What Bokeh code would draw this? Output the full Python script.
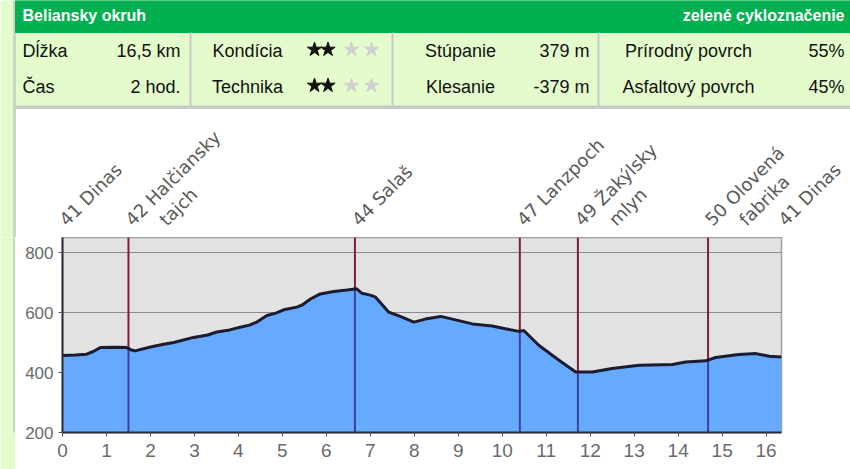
import math
import numpy as np
from bokeh.plotting import figure
from bokeh.layouts import column, row
from bokeh.models import Range1d, FixedTicker, ColumnDataSource
from bokeh.core.properties import value
from bokeh.embed import file_html
from bokeh.resources import INLINE

# ---------------- data ----------------
route_name = "Beliansky okruh"
route_mark = "zelené cykloznačenie"
info_names = ["Dĺžka", "Čas"]
info_values = ["16,5 km", "2 hod."]
rating_names = ["Kondícia", "Technika"]
rating_values = [2, 2]
rating_max = 4
climb_names = ["Stúpanie", "Klesanie"]
climb_values = ["379 m", "-379 m"]
surface_names = ["Prírodný povrch", "Asfaltový povrch"]
surface_values = ["55%", "45%"]

km = [0.0, 0.3, 0.55, 0.7, 0.86, 1.2, 1.46, 1.55, 1.65, 2.0, 2.3, 2.53, 2.98, 3.3,
      3.51, 3.8, 4.04, 4.25, 4.42, 4.65, 4.85, 5.03, 5.33, 5.45, 5.64, 5.86, 6.17,
      6.47, 6.69, 6.81, 7.0, 7.12, 7.42, 7.68, 7.99, 8.25, 8.6, 9.01, 9.32, 9.77,
      10.07, 10.38, 10.49, 10.83, 11.29, 11.67, 12.05, 12.5, 13.11, 13.87, 14.17,
      14.63, 14.85, 15.38, 15.77, 16.07, 16.35]
elev = [457, 458, 461, 470, 483, 484, 483, 476, 472, 485, 494, 500, 517, 525,
        535, 542, 551, 558, 568, 590, 598, 609, 618, 625, 645, 662, 670,
        675, 679, 664, 658, 651, 601, 587, 568, 578, 587, 573, 562, 555,
        546, 537, 540, 491, 441, 402, 402, 413, 424, 427, 435,
        439, 450, 460, 463, 454, 452]

cp_km = [0.0, 1.5, 6.65, 10.4, 11.72, 14.68, 16.35]
cp_names = ["41 Dinas", "42 Halčiansky\ntajch", "44 Salaš", "47 Lanzpoch",
            "49 Žakýlsky\nmlyn", "50 Olovená\nfabrika", "41 Dinas"]

x_ticks = list(range(0, 17))
y_ticks = [200, 400, 600, 800]
y_min, y_max = 200, 850
x_max = 16.35

# ---------------- layout constants (pixels) ----------------
LIGHT_GREEN = "#e4fccc"
GREEN = "#00b050"
GRAY_LINE = "#c8c8c8"
STRIP_COLOR = "#ccd6c2"
W = 850
STRIP_W = 15
BORDER_L, BORDER_R = 47, 69
FRAME_W = W - STRIP_W - BORDER_L - BORDER_R
TOP_H = 237          # table + label area
CHART_H = 469 - TOP_H
LABEL_BASE = 222     # baseline of checkpoint labels (page px)
SECOND_SHIFT = 34    # px shift of a label's second line

# ---------------- header / table / label area ----------------
px_per_km = FRAME_W / x_max
left_km = -(STRIP_W + BORDER_L) / px_per_km
h = figure(width=W, height=TOP_H, x_range=Range1d(0, W), y_range=Range1d(TOP_H, 0),
           output_backend="svg", toolbar_location=None, min_border=0,
           x_axis_location=None, y_axis_location=None,
           outline_line_color=None, background_fill_color=LIGHT_GREEN,
           border_fill_color=LIGHT_GREEN)
h.extra_x_ranges = {"km": Range1d(left_km, left_km + W / px_per_km)}
h.grid.visible = False
h.quad(left=[15], right=[W], top=[108], bottom=[TOP_H], color="white")
h.quad(left=[13], right=[15], top=[0], bottom=[TOP_H], color=STRIP_COLOR)
h.quad(left=[15], right=[W], top=[0], bottom=[32], color=GREEN)
h.quad(left=[15], right=[W], top=[105.5], bottom=[108], color=GRAY_LINE)
h.segment(x0=[190, 392, 598], y0=[32] * 3, x1=[190, 392, 598], y1=[106] * 3,
          line_color=GRAY_LINE, line_width=2)

font = value("Liberation Sans")
h.text(x=[22], y=[15], text=[route_name], text_font=font, text_font_size="16px",
       text_font_style="bold", text_color="white", text_baseline="middle")
h.text(x=[844], y=[15], text=[route_mark], text_font=font, text_font_size="16px",
       text_font_style="bold", text_color="white", text_baseline="middle",
       text_align="right")

row_y = [50, 86]
txt = dict(text_font=font, text_font_size="18px", text_color="#111111",
           text_baseline="middle")
h.text(x=[22, 22], y=row_y, text=info_names, text_align="left", **txt)
h.text(x=[180, 180], y=row_y, text=info_values, text_align="right", **txt)
h.text(x=[247, 247], y=row_y, text=rating_names, text_align="center", **txt)
h.text(x=[460, 460], y=row_y, text=climb_names, text_align="center", **txt)
h.text(x=[589, 589], y=row_y, text=climb_values, text_align="right", **txt)
h.text(x=[688, 688], y=row_y, text=surface_names, text_align="center", **txt)
h.text(x=[844, 844], y=row_y, text=surface_values, text_align="right", **txt)

star_x = [314, 327.5, 351, 371]
sx, sy, sc = [], [], []
for yy, r in zip(row_y, rating_values):
    for i in range(rating_max):
        sx.append(star_x[i])
        sy.append(yy - 1)
        sc.append("#111111" if i < r else "#d0d0d0")
h.scatter(x=sx, y=sy, marker="star", size=15, color=sc)

# checkpoint labels, positioned on the km scale of the chart
first_lines = [n.split("\n")[0] for n in cp_names]
second_idx = [i for i, n in enumerate(cp_names) if "\n" in n]
lab_style = dict(angle=math.pi / 4, text_font=value("DejaVu Sans"), text_font_size="18px",
                 text_color="#5a5a5a", text_align="left", text_baseline="alphabetic",
                 x_range_name="km")
h.text(x=cp_km, y=[LABEL_BASE] * len(cp_km), text=first_lines, **lab_style)
h.text(x=[cp_km[i] + SECOND_SHIFT / px_per_km for i in second_idx],
       y=[LABEL_BASE] * len(second_idx),
       text=[cp_names[i].split("\n")[1] for i in second_idx], **lab_style)

# ---------------- left strip ----------------
s = figure(width=STRIP_W, height=CHART_H, x_range=Range1d(0, STRIP_W),
           y_range=Range1d(0, 1), output_backend="svg", toolbar_location=None,
           min_border=0, x_axis_location=None, y_axis_location=None,
           outline_line_color=None, background_fill_color=LIGHT_GREEN,
           border_fill_color=LIGHT_GREEN)
s.grid.visible = False
s.quad(left=[13], right=[15], top=[1], bottom=[0], color=STRIP_COLOR)

# ---------------- elevation chart ----------------
p = figure(width=W - STRIP_W, height=CHART_H, x_range=Range1d(0, x_max),
           y_range=Range1d(y_min, y_max),
           output_backend="svg", toolbar_location=None,
           min_border_left=BORDER_L, min_border_right=BORDER_R, min_border_top=0,
           min_border_bottom=37,
           background_fill_color="#e2e2e2", border_fill_color="white",
           outline_line_color="#a0a0a0", outline_line_width=1.5)

src = ColumnDataSource(dict(km=km, elev=elev))
p.varea(x="km", y1=y_min, y2="elev", source=src, color="#66aaff")

mid_km = cp_km[1:-1]
mid_elev = list(np.interp(mid_km, km, elev))
p.segment(x0=mid_km, y0=[y_min] * len(mid_km), x1=mid_km, y1=mid_elev,
          line_color="#40409a", line_width=2)
p.segment(x0=mid_km, y0=mid_elev, x1=mid_km, y1=[y_max] * len(mid_km),
          line_color="#7d1f3a", line_width=2)

p.line(x="km", y="elev", source=src, line_color="#1c1c30", line_width=3)

p.xgrid.visible = False
p.ygrid.ticker = FixedTicker(ticks=y_ticks)
p.ygrid.grid_line_color = "#8a8a8a"
p.xaxis.ticker = FixedTicker(ticks=x_ticks)
p.yaxis.ticker = FixedTicker(ticks=y_ticks)
for ax in (p.xaxis[0], p.yaxis[0]):
    ax.minor_tick_line_color = None
    ax.major_tick_in = 0
    ax.major_tick_out = 4
    ax.axis_line_color = "#2b2b3b"
    ax.axis_line_width = 2
    ax.major_tick_line_color = "#555555"
    ax.major_label_text_font = "Liberation Sans"
    ax.major_label_text_color = "#6a6a6a"
p.xaxis.major_label_text_font_size = "19px"
p.yaxis.major_label_text_font_size = "17px"
p.xaxis.major_label_standoff = 7
p.yaxis.major_label_standoff = 5

layout = column(h, row(s, p))
open("out.html", "w").write(file_html(layout, INLINE))
